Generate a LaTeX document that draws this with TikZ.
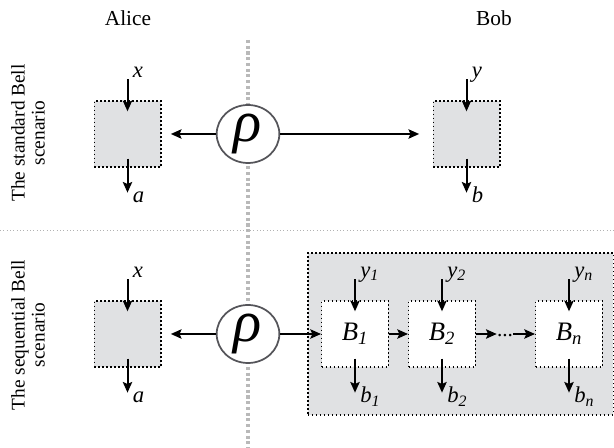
\documentclass[tikz,border=0pt]{standalone}
\usepackage{fontspec}
\setmainfont{Liberation Serif}
\usetikzlibrary{arrows.meta,calc,shapes.geometric}
\definecolor{boxgray}{RGB}{224,225,227}
\definecolor{rimgray}{RGB}{85,85,90}
\begin{document}
\begin{tikzpicture}[x=0.75pt, y=-0.75pt,
    every node/.style={text=black},
    box/.style={draw, dotted, line width=1pt, minimum width=50pt, minimum height=49.5pt, inner sep=0pt},
    source/.style={ellipse, draw=rimgray, line width=1.3pt, fill=white, minimum width=47pt, minimum height=43.5pt, inner sep=0pt},
    arr/.style={-{Stealth[length=8pt,width=7pt,inset=1.5pt]}, line width=1.5pt},
    io/.style={font=\fontsize{17}{17}\selectfont\itshape, inner sep=0pt}]

    \useasboundingbox (0,0) rectangle (614,448);

    % Separators
    \draw[gray!55, dotted, line width=2.3pt] (248,40) -- (248,448);
    \draw[gray!60, dotted, line width=0.5pt] (0,230) -- (614,230);

    % Titles
    \node[font=\fontsize{16}{16}\selectfont] (alice) at (128,18) {Alice};
    \node[font=\fontsize{16}{16}\selectfont] (bob) at (494,18) {Bob};
    \node[rotate=90, align=center, font=\fontsize{14.5}{15}\selectfont] (stdlab) at (28,133) {The standard Bell\\scenario};
    \node[rotate=90, align=center, font=\fontsize{14.5}{15}\selectfont] (seqlab) at (28,335) {The sequential Bell\\scenario};

    % Standard scenario
    \node[box, fill=boxgray] (A1) at (127.5,134) {};
    \node[box, fill=boxgray] (B0) at (466.5,134) {};
    \node[source] (rho1) at (248,134) {\fontsize{44}{44}\selectfont\itshape ρ};
    \draw[arr, shorten >=7pt] (rho1) -- (A1);
    \draw[arr, shorten >=10pt] (rho1) -- (B0);

    % Sequential scenario
    \node[box, fill=boxgray, minimum width=229pt, minimum height=121.5pt] (chain) at (460.5,334) {};
    \node[box, fill=boxgray] (A2) at (127.5,334) {};
    \node[box, fill=white] (B1) at (355,334) {};
    \node[box, fill=white] (B2) at (442,334) {};
    \node[box, fill=white] (Bn) at (569,334) {};
    \node[font=\fontsize{20}{20}\selectfont\itshape] at (B1) {B\textsubscript{1}};
    \node[font=\fontsize{20}{20}\selectfont\itshape] at (B2) {B\textsubscript{2}};
    \node[font=\fontsize{20}{20}\selectfont\itshape] at (Bn) {B\textsubscript{n}};
    \node[inner sep=0pt, font=\fontsize{16}{16}\selectfont] (dots) at (505,336) {...};
    \node[source] (rho2) at (248,334) {\fontsize{44}{44}\selectfont\itshape ρ};
    \draw[arr, shorten >=7pt] (rho2) -- (A2);
    \draw[arr] (rho2) -- (B1);
    \draw[arr] (B1) -- (B2);
    \draw[arr] (B2) -- (dots.west |- B2);
    \draw[arr] (dots.east |- Bn) -- (Bn);

    % Inputs and outputs
    \foreach \bx/\inp/\outp in {A1/x/a, B0/y/b, A2/x/a, B1/y\textsubscript{1}/b\textsubscript{1}, B2/y\textsubscript{2}/b\textsubscript{2}, Bn/y\textsubscript{n}/b\textsubscript{n}} {
        \coordinate (\bx-in) at ($(\bx.north)+(0,-21)$);
        \coordinate (\bx-inend) at ($(\bx.north)+(0,11)$);
        \coordinate (\bx-out) at ($(\bx.south)+(0,-9)$);
        \coordinate (\bx-outend) at ($(\bx.south)+(0,25)$);
        \draw[arr] (\bx-in) -- (\bx-inend);
        \draw[arr] (\bx-out) -- (\bx-outend);
        \node[io, anchor=base west] (\bx-inlab) at ($(\bx-in)+(5,-2)$) {\inp};
        \node[io, anchor=base west] (\bx-outlab) at ($(\bx-outend)+(5,10)$) {\outp};
    }

\end{tikzpicture}
\end{document}
